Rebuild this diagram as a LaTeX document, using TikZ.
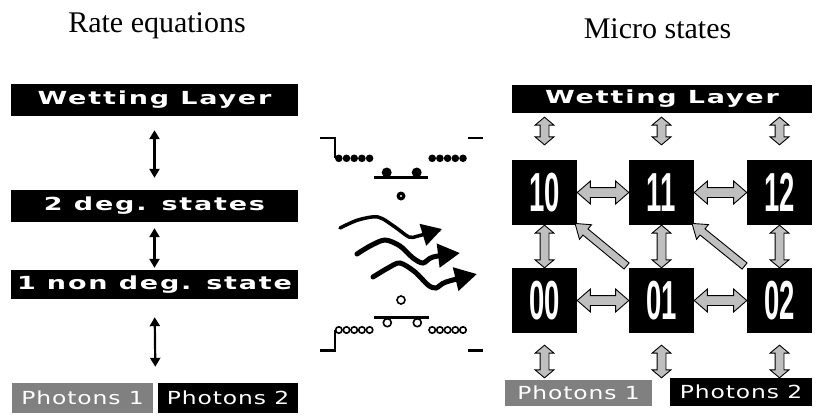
\documentclass[tikz,border=0pt]{standalone}
\usepackage{fontspec}
\usepackage{graphicx}
\setmainfont{Liberation Serif}
\newfontfamily\labelfont{DejaVu Sans Bold}[FakeStretch=1.5,LetterSpace=10]
\newfontfamily\photonfont{DejaVu Sans}[FakeStretch=1.3,LetterSpace=5]
\newfontfamily\digitfont{Liberation Sans Bold}[FakeStretch=0.5]
\usetikzlibrary{arrows.meta,shapes.arrows,calc}

% a fat outlined arrow node stretched between two points
\newcommand\fatlink[4]{%
  \path let \p1=(#3), \p2=(#4),
            \n1={atan2(\y2-\y1,\x2-\x1)},
            \n2={veclen(\x2-\x1,\y2-\y1)} in
    node[#1, name=#2, rotate=\n1, minimum height=\n2] at ($(\p1)!0.5!(\p2)$) {};}

\tikzset{
  title/.style={font=\fontsize{30}{36}\selectfont, anchor=base, inner sep=0pt},
  bar/.style={fill=black, text=white, inner sep=0pt,
              font=\labelfont\fontsize{18}{20}\selectfont},
  photon/.style={text=white, inner sep=0pt,
              font=\photonfont\fontsize{18}{20}\selectfont},
  state/.style={fill=black, text=white, minimum size=65pt, inner sep=0pt,
              font=\digitfont\fontsize{55}{55}\selectfont},
  thinarr/.style={line width=2.2pt,
              arrows={Triangle[length=9pt,width=10pt]-Triangle[length=9pt,width=10pt]}},
  fatbase/.style={draw=black, line width=0.9pt, fill=gray!50, inner xsep=0pt},
  fatv/.style={fatbase, double arrow, inner ysep=4pt,
              double arrow head extend=5pt, double arrow tip angle=100},
  fath/.style={fatbase, double arrow, inner ysep=4.5pt,
              double arrow head extend=6.5pt, double arrow tip angle=82},
  fatone/.style={fatbase, single arrow, inner ysep=3.5pt,
              single arrow head extend=5.5pt, single arrow tip angle=70},
  level/.style={line width=2.5pt},
  wave/.style={line width=5pt, line cap=round,
              -{Triangle[length=22pt,width=23pt]}},
  fulldot/.style={fill=black},
  opendot/.style={draw=black, line width=1.6pt, fill=white},
}

\begin{document}
\begin{tikzpicture}[x=1pt,y=-1pt]
\useasboundingbox (0,0) rectangle (817,418);

% ---- headings
\node[title] (ttlrate) at (157,32) {Rate equations};
\node[title] (ttlmicro) at (657.5,38) {Micro states};

% ---- rate-equation ladder
\node[bar, minimum width=287pt, minimum height=32pt] (wll) at (154.5,100) {Wetting Layer};
\node[bar, minimum width=287pt, minimum height=32pt] (degl) at (154.5,206) {2 deg. states};
\node[bar, minimum width=287pt, minimum height=29pt] (ndl) at (154.5,284.5) {1 non deg. state};
\node[photon, fill=black!50, minimum width=141pt, minimum height=30pt] (p1l) at (82.5,398) {Photons 1};
\node[photon, fill=black, minimum width=140pt, minimum height=30pt] (p2l) at (228,398) {Photons 2};
\coordinate (gapl) at ($(p1l.north east)!0.5!(p2l.north west)$);

\draw[thinarr, shorten <=14pt, shorten >=12pt] (wll.south) -- (degl.north);
\draw[thinarr, shorten <=6pt, shorten >=2pt] (degl.south) -- (ndl.north);
\draw[thinarr, shorten <=18pt, shorten >=16pt] (ndl.south) -- (gapl);

% ---- level scheme in the middle
% upper levels
\draw[level] (320,138) -- (335,138) -- (335,158);
\foreach \x in {338.8,346.5,354.2,361.9,369.6,432.2,439.9,447.6,455.3,463}
  \fill[fulldot] (\x,158.3) circle (3.8);
\draw[level] (468,138) -- (483,138);
\draw[level] (374,177.3) -- (428,177.3);
\fill[fulldot] (386.7,172.5) circle (5);
\fill[fulldot] (416.7,172.5) circle (5);
\fill[fulldot] (401,196) circle (4.5);
\fill[white] (401,196) circle (1.2);

% emitted photons
\draw[wave, line width=3.5pt, -{Triangle[length=20pt,width=22pt]}]
  plot[smooth] coordinates {(340,228) (358,220) (378,217) (395,227) (409,237) (418,236) (442,229)};
\draw[wave] plot[smooth] coordinates
  {(357,254) (370,246) (385,240) (400,246) (413,258) (423,263) (433,257) (460,253)};
\draw[wave] plot[smooth] coordinates
  {(373,277) (388,268) (400,263) (415,272) (428,285) (436,288) (446,282) (477,274)};

% lower levels
\draw[opendot] (401,300) circle (4);
\draw[level] (374,317.3) -- (429,317.3);
\draw[opendot] (387.3,322.7) circle (4);
\draw[opendot] (417.3,322.7) circle (4);
\draw[level] (320,350.7) -- (335,350.7) -- (335,330);
\foreach \x in {338.8,346.5,354.2,361.9,369.6,432.2,439.9,447.6,455.3,463}
  \draw[opendot] (\x,330) circle (3.2);
\draw[level] (468,350.7) -- (483,350.7);

% ---- micro-state network
\node[bar, minimum width=300pt, minimum height=28pt] (wlr) at (662,99) {Wetting Layer};
\node[state] (s10) at (544.5,192.5) {10};
\node[state] (s11) at (661.5,192.5) {11};
\node[state] (s12) at (779.5,192.5) {12};
\node[state] (s00) at (544.5,300.5) {00};
\node[state] (s01) at (661.5,300.5) {01};
\node[state] (s02) at (779.5,300.5) {02};
\node[photon, fill=black!50, minimum width=147pt, minimum height=26pt] (p1r) at (578.5,393) {Photons 1};
\node[photon, fill=black, minimum width=142pt, minimum height=28pt] (p2r) at (741,392) {Photons 2};

% wetting layer <-> upper row
\fatlink{fatv}{wa}{$(s10.north |- wlr.south)+(0,4)$}{$(s10.north)+(0,-15)$}
\fatlink{fatv}{wb}{$(s11.north |- wlr.south)+(0,4)$}{$(s11.north)+(0,-15)$}
\fatlink{fatv}{wc}{$(s12.north |- wlr.south)+(0,4)$}{$(s12.north)+(0,-15)$}
% upper row <-> lower row
\fatlink{fatv}{va}{s10.south}{s00.north}
\fatlink{fatv}{vb}{s11.south}{s01.north}
\fatlink{fatv}{vc}{s12.south}{s02.north}
% along the rows
\fatlink{fath}{ha}{s10.east}{s11.west}
\fatlink{fath}{hb}{s11.east}{s12.west}
\fatlink{fath}{hc}{s00.east}{s01.west}
\fatlink{fath}{hd}{s01.east}{s02.west}
% cross transitions
\fatlink{fatone}{da}{s01.north west}{s10.south east}
\fatlink{fatone}{db}{s02.north west}{s11.south east}
% lower row <-> photons
\fatlink{fatv}{pa}{$(s00.south)+(0,12)$}{$(s00.south |- p1r.north)+(0,-2)$}
\fatlink{fatv}{pb}{$(s01.south)+(0,12)$}{$(s01.south |- p1r.north)+(0,-2)$}
\fatlink{fatv}{pc}{$(s02.south)+(0,12)$}{$(s02.south |- p2r.north)$}
\end{tikzpicture}
\end{document}
